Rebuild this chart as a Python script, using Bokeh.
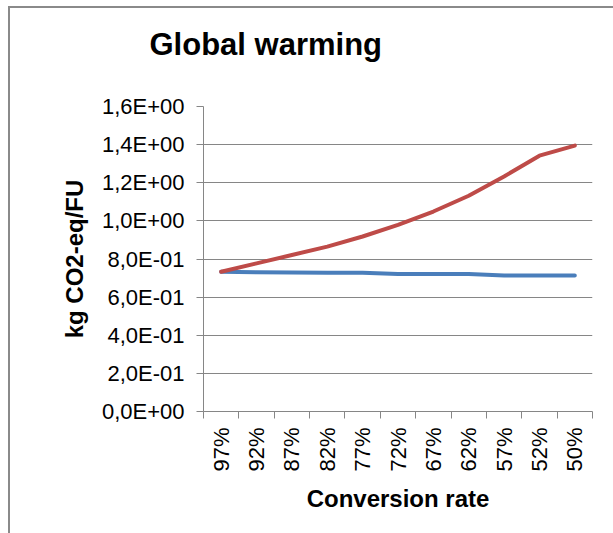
import math
from bokeh.plotting import figure
from bokeh.models import Range1d, FixedTicker
from bokeh.embed import file_html
from bokeh.resources import INLINE

categories = ["97%", "92%", "87%", "82%", "77%", "72%", "67%", "62%", "57%", "52%", "50%"]
series_red = [0.733, 0.777, 0.821, 0.865, 0.918, 0.979, 1.049, 1.132, 1.233, 1.342, 1.395]
series_blue = [0.733, 0.730, 0.729, 0.728, 0.728, 0.721, 0.721, 0.721, 0.714, 0.714, 0.714]
y_ticks = [0.0, 0.2, 0.4, 0.6, 0.8, 1.0, 1.2, 1.4, 1.6]
y_tick_labels = ["0,0E+00", "2,0E-01", "4,0E-01", "6,0E-01", "8,0E-01",
                 "1,0E+00", "1,2E+00", "1,4E+00", "1,6E+00"]

FONT = "Liberation Sans"
GRAY = "#868686"

xs = [i + 0.5 for i in range(len(categories))]

p = figure(width=605, height=557, output_backend="svg", toolbar_location=None,
           x_range=Range1d(0, len(categories)), y_range=Range1d(0, 1.6),
           min_border_left=195, min_border_top=130, min_border_right=21, min_border_bottom=122)
# chart-area border (left and top edges) painted as CSS backgrounds behind a transparent canvas
p.styles = {
    "margin-left": "8px",
    "margin-top": "-24px",
    "background-color": "white",
    "background-image": "linear-gradient(#8a8a8a, #8a8a8a), linear-gradient(#8a8a8a, #8a8a8a)",
    "background-size": "100% 2px, 2px 100%",
    "background-position": "0px 30px, 0px 30px",
    "background-repeat": "no-repeat",
}
p.outline_line_color = None
p.background_fill_color = "white"
p.border_fill_color = None

p.title.text = "Global warming"
p.title.text_font = FONT
p.title.text_font_style = "bold"
p.title.text_font_size = "31px"
p.title.text_color = "black"
p.title.align = "left"
p.title.offset = -54
p.title.standoff = 90

p.line(xs, series_blue, line_color="#4A7EBB", line_width=4, line_join="round", line_cap="round")
p.line(xs, series_red, line_color="#BE4B48", line_width=4, line_join="round", line_cap="round")

# y axis
ya = p.yaxis[0]
ya.ticker = FixedTicker(ticks=y_ticks, minor_ticks=[])
ya.major_label_overrides = dict(zip(y_ticks, y_tick_labels))
ya.major_label_text_font = FONT
ya.major_label_text_font_size = "22px"
ya.major_label_text_color = "black"
ya.major_label_standoff = 12
ya.major_tick_out = 7
ya.major_tick_in = 0
ya.major_tick_line_color = GRAY
ya.minor_tick_line_color = None
ya.axis_line_color = GRAY
ya.axis_label = "kg CO2-eq/FU"
ya.axis_label_text_font = FONT
ya.axis_label_text_font_style = "bold"
ya.axis_label_text_font_size = "24px"
ya.axis_label_text_color = "black"
ya.axis_label_standoff = 11

# x axis
xa = p.xaxis[0]
xa.ticker = FixedTicker(ticks=xs, minor_ticks=list(range(len(categories) + 1)))
xa.major_label_overrides = dict(zip(xs, categories))
xa.major_label_orientation = math.pi / 2
xa.major_label_text_font = FONT
xa.major_label_text_font_size = "22px"
xa.major_label_text_color = "black"
xa.major_label_standoff = 9
xa.major_tick_out = 7
xa.major_tick_in = 0
xa.major_tick_line_color = None
xa.minor_tick_out = 7
xa.minor_tick_in = 0
xa.minor_tick_line_color = GRAY
xa.axis_line_color = GRAY
xa.axis_label = "Conversion rate"
xa.axis_label_text_font = FONT
xa.axis_label_text_font_style = "bold"
xa.axis_label_text_font_size = "24px"
xa.axis_label_text_color = "black"
xa.axis_label_standoff = 10

p.xgrid.visible = False
p.ygrid.ticker = FixedTicker(ticks=y_ticks)
p.ygrid.grid_line_color = GRAY
p.ygrid.grid_line_width = 1

open("out.html", "w").write(file_html(p, INLINE))
